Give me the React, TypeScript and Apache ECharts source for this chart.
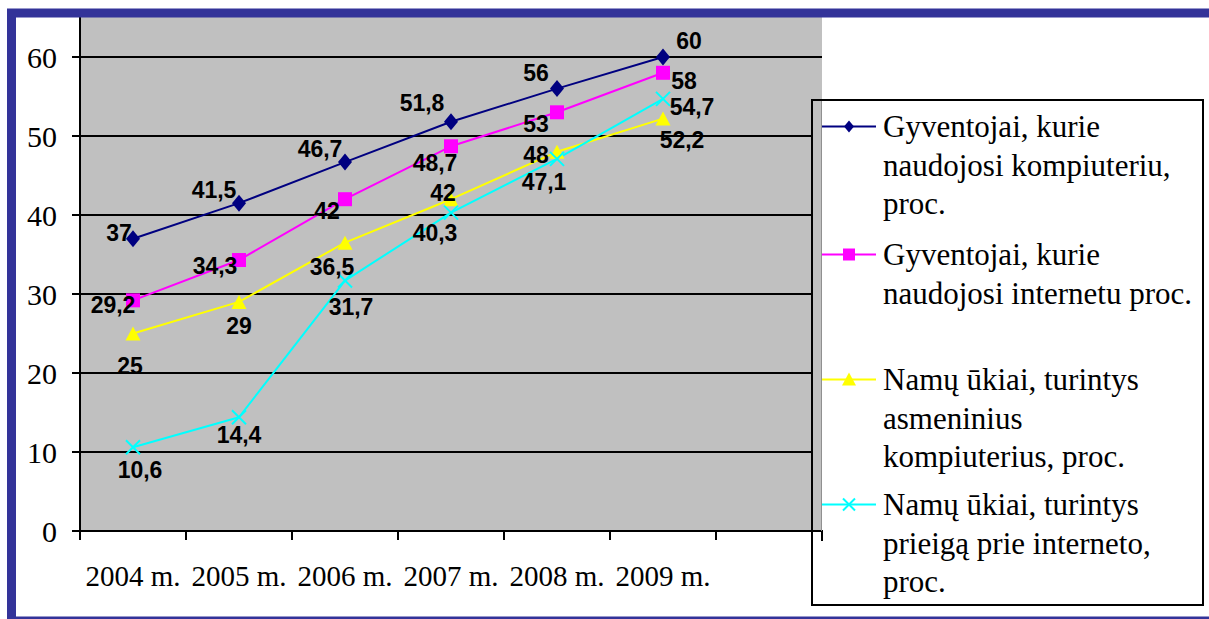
import React, { useEffect, useRef } from "react";
import * as echarts from "echarts";

const categories = ["2004 m.", "2005 m.", "2006 m.", "2007 m.", "2008 m.", "2009 m.", ""];
const seriesNames = [
  "Gyventojai, kurie naudojosi kompiuteriu, proc.",
  "Gyventojai, kurie naudojosi internetu proc.",
  "Namų ūkiai, turintys asmeninius kompiuterius, proc.",
  "Namų ūkiai, turintys prieigą prie interneto, proc.",
];
const legendLines = [
  ["Gyventojai, kurie", "naudojosi kompiuteriu,", "proc."],
  ["Gyventojai, kurie", "naudojosi internetu proc."],
  ["Namų ūkiai, turintys", "asmeninius", "kompiuterius, proc."],
  ["Namų ūkiai, turintys", "prieigą prie interneto,", "proc."],
];
const computerUsers = [37, 41.5, 46.7, 51.8, 56, 60];
const internetUsers = [29.2, 34.3, 42, 48.7, 53, 58];
const householdsPC = [25, 29, 36.5, 42, 48, 52.2];
const householdsInternet = [10.6, 14.4, 31.7, 40.3, 47.1, 54.7];
const yTicks = { min: 0, max: 70, interval: 10 };

// label offsets (styling, px)
const offs1 = [[-14, -6], [-25, -13], [-25, -13], [-29, -19], [-21, -16], [26, -16]];
const offs2 = [[-20, 5], [-24, 6], [-18, 12], [-16, 17], [-21, 12], [21, 8]];
const offs3 = [[-3, 32], [0, 24], [-13, 24], [-8, -6], [-21, 3], [19, 21]];
const offs4 = [[7, 23], [0, 18], [6, 26], [-16, 20], [-13, 23], [29, 8]];

const colors = ["#000080", "#ff00ff", "#ffff00", "#00ffff"];
const CROSS = "path://M0,0L10,10M10,0L0,10";
const DY = 30; // chart canvas is shifted up by DY so that the 70 line sits above the page

function fmt(v: number) {
  return String(v).replace(".", ",");
}

function buildSeries(name: string, values: number[], offs: number[][], color: string, symbol: string, size: any, cross = false) {
  return {
    name,
    type: "line",
    data: values.map((v, i) => ({ value: v, label: { offset: offs[i] } })),
    symbol,
    symbolSize: size,
    lineStyle: { color, width: 2 },
    itemStyle: cross
      ? { color: "rgba(0,0,0,0)", borderColor: color, borderWidth: 2 }
      : { color, borderWidth: 0 },
    label: {
      show: true,
      position: "inside",
      formatter: (p: any) => fmt(p.value),
      fontFamily: '"Liberation Sans Narrow", "Arial Narrow", sans-serif',
      fontWeight: "bold",
      fontSize: 23,
      color: "#000",
    },
    z: 3,
  };
}

function legendGraphic() {
  const els: any[] = [];
  const Y = (v: number) => v + DY;
  els.push({
    type: "rect",
    z: 50,
    shape: { x: 812, y: Y(100), width: 391, height: 505 },
    style: { fill: "#fff", stroke: "#000", lineWidth: 2 },
  });
  els.push({
    type: "rect",
    z: 51,
    shape: { x: 813, y: Y(101), width: 8, height: 430 },
    style: { fill: "#c0c0c0" },
  });
  els.push({ type: "line", z: 52, shape: { x1: 812, y1: Y(531), x2: 823, y2: Y(531) }, style: { stroke: "#000", lineWidth: 2 } });
  els.push({ type: "line", z: 52, shape: { x1: 822, y1: Y(531), x2: 822, y2: Y(541) }, style: { stroke: "#000", lineWidth: 2 } });
  els.push({ type: "line", z: 52, shape: { x1: 821.5, y1: Y(101), x2: 821.5, y2: Y(531) }, style: { stroke: "#909090", lineWidth: 1 } });
  const centers = [126.5, 254.5, 379.5, 504.5];
  const lh = 38.7;
  centers.forEach((cy0, k) => {
    const cy = Y(cy0);
    const c = colors[k];
    els.push({ type: "line", z: 53, shape: { x1: 822, y1: cy, x2: 876, y2: cy }, style: { stroke: c, lineWidth: 2 } });
    if (k === 0) {
      els.push({ type: "polygon", z: 54, shape: { points: [[849, cy - 6], [854, cy], [849, cy + 6], [844, cy]] }, style: { fill: c } });
    } else if (k === 1) {
      els.push({ type: "rect", z: 54, shape: { x: 843, y: cy - 6, width: 12, height: 12 }, style: { fill: c } });
    } else if (k === 2) {
      els.push({ type: "polygon", z: 54, shape: { points: [[849, cy - 7], [856, cy + 6], [842, cy + 6]] }, style: { fill: c } });
    } else {
      els.push({ type: "line", z: 54, shape: { x1: 843, y1: cy - 6, x2: 855, y2: cy + 6 }, style: { stroke: c, lineWidth: 2 } });
      els.push({ type: "line", z: 54, shape: { x1: 855, y1: cy - 6, x2: 843, y2: cy + 6 }, style: { stroke: c, lineWidth: 2 } });
    }
    legendLines[k].forEach((t, j) => {
      els.push({
        type: "text",
        z: 54,
        x: 883,
        y: cy + j * lh,
        style: {
          text: t,
          font: '31px "Liberation Serif", "Times New Roman", serif',
          fill: "#000",
          verticalAlign: "middle",
          align: "left",
        },
      });
    });
  });
  // white cover above frame and blue frame
  els.push({ type: "rect", z: 90, shape: { x: 0, y: 0, width: 1209, height: Y(9) }, style: { fill: "#fff" } });
  els.push({ type: "rect", z: 90, shape: { x: 0, y: 0, width: 7, height: 700 }, style: { fill: "#fff" } });
  els.push({
    type: "rect",
    z: 91,
    shape: { x: 11.5, y: Y(13), width: 1215, height: 608 },
    style: { fill: "none", stroke: "#333399", lineWidth: 9 },
  });
  return els;
}

export default function App() {
  const ref = useRef<HTMLDivElement>(null);
  useEffect(() => {
    if (!ref.current) return;
    const chart = echarts.init(ref.current, null, { renderer: "svg" });
    const option: any = {
      animation: false,
      backgroundColor: "#fff",
      grid: {
        left: 80,
        width: 742,
        bottom: 88,
        height: 553,
        show: true,
        backgroundColor: "#c0c0c0",
        borderWidth: 0,
      },
      xAxis: {
        type: "category",
        data: categories,
        boundaryGap: true,
        axisLine: { show: true, lineStyle: { color: "#000", width: 2 } },
        axisTick: { show: true, length: 9, inside: false, lineStyle: { color: "#000", width: 2 } },
        axisLabel: {
          interval: 0,
          margin: 30,
          fontSize: 29,
          fontFamily: '"Liberation Serif", "Times New Roman", serif',
          color: "#000",
        },
        splitLine: { show: false },
      },
      yAxis: {
        type: "value",
        min: yTicks.min,
        max: yTicks.max,
        interval: yTicks.interval,
        axisLine: { show: true, lineStyle: { color: "#000", width: 2 } },
        axisTick: { show: true, length: 8, inside: false, lineStyle: { color: "#000", width: 2 } },
        axisLabel: {
          margin: 23,
          showMaxLabel: false,
          fontSize: 30,
          fontFamily: '"Liberation Serif", "Times New Roman", serif',
          color: "#000",
        },
        splitLine: { show: true, lineStyle: { color: "#000", width: 2 } },
      },
      series: [
        buildSeries(seriesNames[0], computerUsers, offs1, colors[0], "diamond", [14, 17]),
        buildSeries(seriesNames[1], internetUsers, offs2, colors[1], "rect", 14),
        buildSeries(seriesNames[2], householdsPC, offs3, colors[2], "triangle", [15, 14]),
        buildSeries(seriesNames[3], householdsInternet, offs4, colors[3], CROSS, 14, true),
      ],
      graphic: legendGraphic(),
    };
    chart.setOption(option);
    return () => chart.dispose();
  }, []);
  return (
    <div
      ref={ref}
      style={{ position: "absolute", left: 0, top: -DY, width: 1209, height: 619 + DY }}
    />
  );
}
